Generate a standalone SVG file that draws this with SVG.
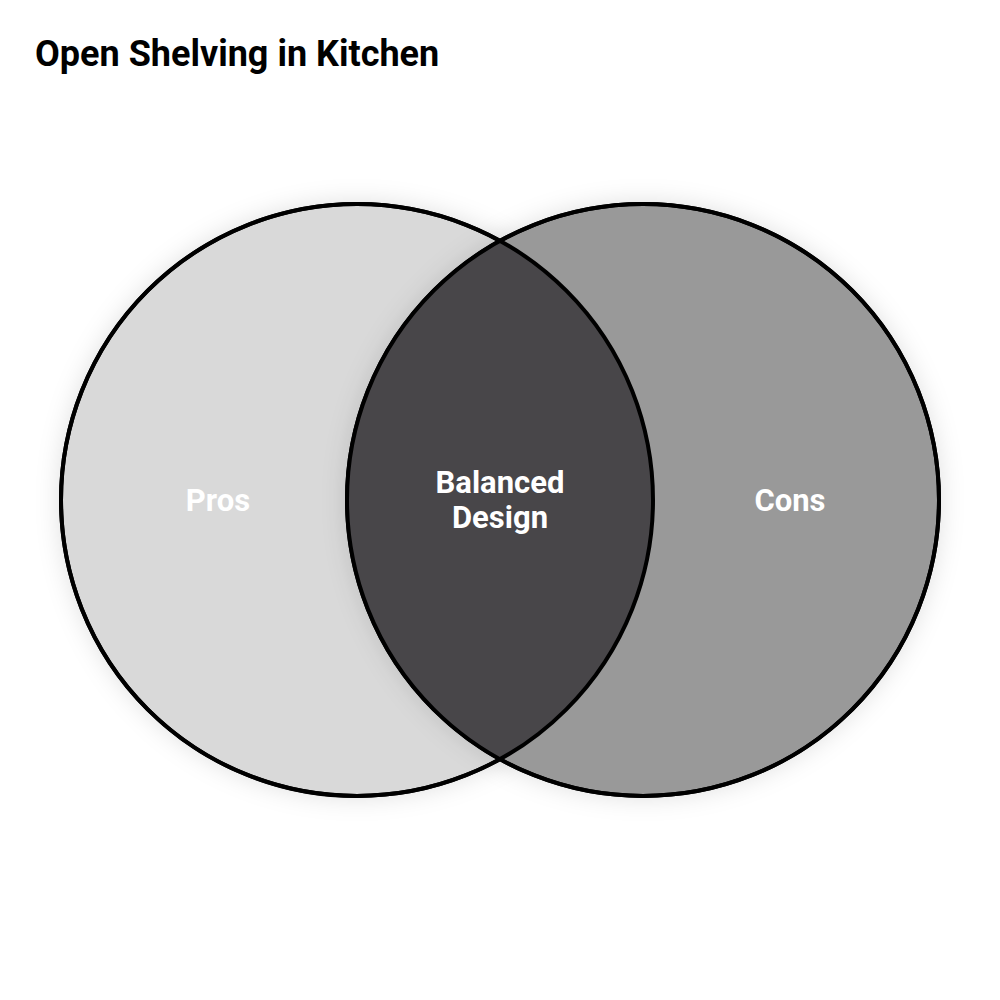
<svg xmlns="http://www.w3.org/2000/svg" width="1000" height="1000" viewBox="0 0 1000 1000">
<defs>
<filter id="sh" x="-20%" y="-20%" width="140%" height="140%">
<feDropShadow dx="0" dy="0" stdDeviation="12" flood-color="#000" flood-opacity="0.12"/>
</filter>
</defs>
<style>
.c{stroke:#000;stroke-width:4}
.lbl{font-family:Roboto,"Liberation Sans",sans-serif;font-weight:bold;font-size:31px;fill:#fff;text-anchor:middle}
.title{font-family:Roboto,"Liberation Sans",sans-serif;font-weight:bold;font-size:36px;fill:#000}
</style>
<rect width="1000" height="1000" fill="#fff"/>
<text class="title" x="35" y="66">Open Shelving in Kitchen</text>
<g id="pros">
<circle class="c" cx="357" cy="500" r="296" fill="#d9d9d9" filter="url(#sh)"/>
</g>
<g id="cons">
<circle class="c" cx="643" cy="500" r="296" fill="#999999" filter="url(#sh)"/>
</g>
<g id="balanced">
<path d="M500 241 A296 296 0 0 1 500 759 A296 296 0 0 1 500 241 Z" fill="#484649"/>
<circle cx="357" cy="500" r="296" fill="none" class="c"/>
<circle cx="643" cy="500" r="296" fill="none" class="c"/>
</g>
<g id="labels">
<text class="lbl" x="218" y="511">Pros</text>
<text class="lbl" x="790" y="511">Cons</text>
<text class="lbl" x="500" y="493">Balanced</text>
<text class="lbl" x="500" y="528">Design</text>
</g>
<g id="connectors"/>
</svg>
